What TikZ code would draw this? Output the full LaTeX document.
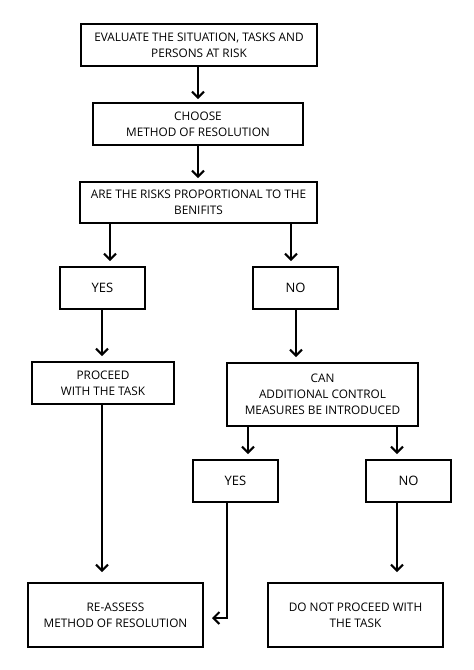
\documentclass[tikz,border=0pt]{standalone}
\usepackage{fontspec}
\setmainfont{Open Sans}
\usetikzlibrary{arrows.meta,calc}
\begin{document}
\begin{tikzpicture}[x=1pt,y=-1pt,
  box/.style={draw,line width=2pt,rectangle,align=center,inner sep=0pt,
    font=\fontsize{11.8}{16}\selectfont},
  yn/.style={box,minimum width=85pt,minimum height=42pt,font=\fontsize{13}{16}\selectfont},
  arr/.style={line width=2pt,-{Straight Barb[length=6pt,width=12pt,line width=2pt]}}]
\useasboundingbox (0,0) rectangle (474,670);
\node[box,minimum width=236pt,minimum height=42pt] (b1) at (199,45) {EVALUATE THE SITUATION, TASKS AND\\PERSONS AT RISK};
\node[box,minimum width=210pt,minimum height=42pt] (b2) at (198,124) {CHOOSE\\METHOD OF RESOLUTION};
\node[box,minimum width=237pt,minimum height=41pt] (b3) at (198.5,202.5) {ARE THE RISKS PROPORTIONAL TO THE\\BENIFITS};
\node[yn] (yes1) at (102.5,288) {YES};
\node[yn] (no1) at (295.5,288) {NO};
\node[box,minimum width=142pt,minimum height=42pt] (proc) at (103,383) {PROCEED\\WITH THE TASK};
\node[box,minimum width=191pt,minimum height=63pt] (can) at (322.5,394.5) {CAN\\ADDITIONAL CONTROL\\MEASURES BE INTRODUCED};
\node[yn] (yes2) at (235.5,481) {YES};
\node[yn] (no2) at (408.5,481) {NO};
\node[box,minimum width=175pt,minimum height=64pt] (reas) at (115.5,615) {RE-ASSESS\\METHOD OF RESOLUTION};
\node[box,minimum width=175pt,minimum height=64pt] (donot) at (355.5,615) {DO NOT PROCEED WITH\\THE TASK};
\coordinate (t1) at ($(reas.east)+(8,3)$);
\draw[arr,shorten >=3pt] (b1.south -| 198,0) -- (b2.north -| 198,0);
\draw[arr,shorten >=3pt] (b2.south -| 198,0) -- (b3.north -| 198,0);
\draw[arr,shorten >=5pt] (b3.south -| 110,0) -- (yes1.north -| 110,0);
\draw[arr,shorten >=5pt] (b3.south -| 291,0) -- (no1.north -| 291,0);
\draw[arr,shorten >=5pt] (yes1.south -| 102,0) -- (proc.north -| 102,0);
\draw[arr,shorten >=5pt] (no1.south -| 296,0) -- (can.north -| 296,0);
\draw[arr,shorten >=5pt] (can.south -| 248,0) -- (yes2.north -| 248,0);
\draw[arr,shorten >=5pt] (can.south -| 397,0) -- (no2.north -| 397,0);
\draw[arr,shorten >=10pt] (proc.south -| 102,0) -- (reas.north -| 102,0);
\draw[arr,shorten >=10pt] (no2.south -| 397,0) -- (donot.north -| 397,0);
\draw[arr] (yes2.south -| 227,0) |- (t1);
\end{tikzpicture}
\end{document}
